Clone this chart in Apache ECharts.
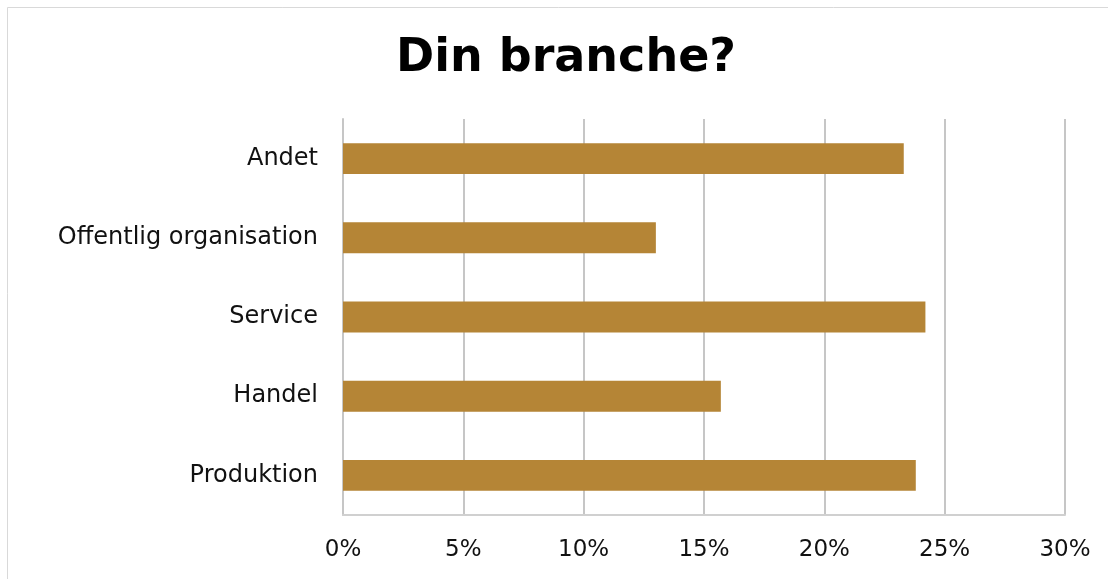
<!DOCTYPE html>
<html>
<head>
<meta charset="utf-8">
<script src="https://cdn.jsdelivr.net/npm/echarts@6/dist/echarts.min.js"></script>
<style>
  html, body { margin: 0; padding: 0; background: #fff; }
  #chart { width: 1108px; height: 579px; }
</style>
</head>
<body>
<div id="chart"></div>
<script>
// Industry shares (percent), listed bottom to top
const categories = ['Produktion', 'Handel', 'Service', 'Offentlig organisation', 'Andet'];
const shares = [23.8, 15.7, 24.2, 13.0, 23.3];
const titleText = 'Din branche?';
const axisMin = 0;
const axisMax = 30;
const axisStep = 5;

const font = '"DejaVu Sans", "Noto Sans", sans-serif';
const chart = echarts.init(document.getElementById('chart'), null, { renderer: 'canvas' });

chart.setOption({
  backgroundColor: '#ffffff',
  animation: false,
  graphic: [{
    type: 'rect',
    shape: { x: 7.5, y: 7.5, width: 1110, height: 590 },
    style: { fill: 'none', stroke: '#d9d9d9', lineWidth: 1 },
    silent: true
  }],
  title: {
    text: titleText,
    left: 391,
    top: 31,
    textStyle: { fontFamily: font, fontWeight: 'bold', fontSize: 46, color: '#000' }
  },
  grid: { left: 343, right: 43, top: 119, bottom: 64, containLabel: false },
  xAxis: {
    type: 'value',
    min: axisMin,
    max: axisMax,
    interval: axisStep,
    axisLine: { show: true, lineStyle: { color: '#d0d0d0', width: 2 } },
    axisTick: { show: false },
    splitLine: { show: true, lineStyle: { color: '#c6c6c6', width: 2 } },
    axisLabel: {
      formatter: v => v + '%',
      fontFamily: font, fontSize: 23, color: '#111', margin: 24
    }
  },
  yAxis: {
    type: 'category',
    data: categories,
    axisLine: { show: true, lineStyle: { color: '#c6c6c6', width: 2 } },
    axisTick: { show: false },
    axisLabel: { fontFamily: font, fontSize: 24, color: '#111', margin: 25 }
  },
  series: [{
    type: 'bar',
    data: shares,
    barWidth: '39%',
    itemStyle: { color: '#b58536' }
  }]
});
</script>
</body>
</html>
